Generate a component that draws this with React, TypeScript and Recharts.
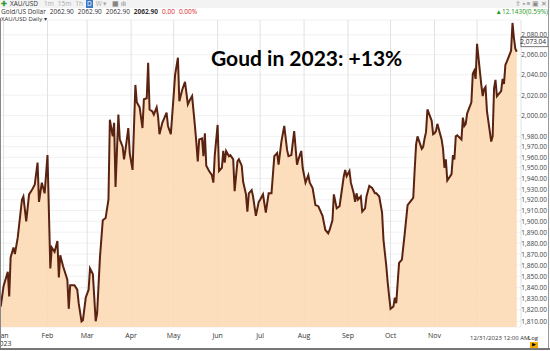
import React from 'react';
import { AreaChart, Area, XAxis, YAxis, CartesianGrid, ReferenceLine } from 'recharts';

// day of 2023 (0 = Jan 1) and daily close, XAU/USD
const DAYS = [
  -2, 0, 3, 4, 5, 7, 8, 10, 13, 14, 16, 18, 20, 22, 24, 25, 27, 29, 31, 33,
  34, 36, 38, 39, 40, 42, 45, 46, 47, 50, 52, 53, 55, 56, 58, 60, 61, 63, 65, 66,
  68, 70, 72, 74, 75, 77, 78, 79, 81, 82, 84, 85, 86, 88, 89, 91, 93, 94, 96, 98,
  99, 101, 102, 103, 105, 106, 108, 109, 110, 112, 115, 116, 118, 120, 121, 123, 124, 126, 128, 130,
  131, 133, 135, 136, 137, 138, 140, 141, 142, 143, 145, 147, 148, 149, 151, 152, 154, 155, 156, 157,
  159, 160, 162, 163, 165, 166, 168, 169, 171, 172, 173, 175, 176, 178, 180, 181, 183, 185, 187, 189,
  191, 193, 194, 196, 198, 200, 201, 203, 205, 207, 208, 210, 211, 213, 215, 216, 218, 220, 222, 223,
  225, 227, 229, 230, 232, 233, 235, 237, 238, 240, 241, 242, 244, 245, 247, 248, 249, 250, 252, 253,
  255, 256, 258, 260, 262, 263, 265, 267, 268, 270, 271, 272, 273, 275, 276, 277, 278, 279, 281, 282,
  283, 285, 288, 289, 290, 291, 292, 295, 296, 297, 298, 299, 302, 303, 304, 305, 306, 309, 310, 311,
  312, 313, 316, 317, 318, 319, 320, 323, 324, 325, 326, 327, 330, 331, 332, 333, 334, 337, 338, 339,
  340, 341, 344, 345, 346, 347, 348, 351, 352, 353, 354, 355, 358, 359, 360, 361, 362,
];
const PRICES = [
  1823, 1841, 1854, 1832, 1867, 1876, 1870, 1885, 1920, 1923, 1900, 1925, 1929, 1934, 1955, 1918, 1936, 1926, 1962, 1857,
  1876, 1872, 1882, 1849, 1869, 1859, 1847, 1821, 1842, 1842, 1838, 1826, 1810, 1811, 1831, 1838, 1857, 1852, 1810, 1817,
  1867, 1901, 1903, 1920, 1996, 1980, 1993, 1932, 2001, 1977, 1970, 1958, 1967, 1988, 1964, 1948, 2030, 2013, 2008, 1988,
  2016, 2017, 2052, 2006, 2004, 2001, 2008, 1999, 1982, 1993, 2003, 1990, 1982, 2020, 2040, 2057, 2014, 2025, 2033, 2011,
  2014, 2019, 1990, 1974, 1956, 1977, 1978, 1961, 1983, 1952, 1947, 1943, 1936, 1962, 1991, 1947, 1950, 1966, 1955, 1966,
  1961, 1962, 1958, 1928, 1956, 1958, 1952, 1937, 1925, 1909, 1926, 1929, 1923, 1905, 1918, 1920, 1925, 1908, 1926, 1926,
  1961, 1964, 1953, 1975, 1990, 1967, 1961, 1962, 1985, 1953, 1958, 1966, 1950, 1936, 1943, 1936, 1931, 1915, 1914, 1911,
  1905, 1892, 1889, 1892, 1901, 1925, 1912, 1914, 1923, 1942, 1948, 1942, 1947, 1936, 1926, 1918, 1926, 1920, 1923, 1909,
  1912, 1923, 1933, 1931, 1926, 1926, 1923, 1908, 1883, 1859, 1844, 1832, 1821, 1823, 1831, 1826, 1844, 1862, 1865, 1877,
  1889, 1915, 1920, 1922, 1948, 1972, 1980, 1968, 1970, 1978, 1984, 2006, 1995, 1982, 1983, 1985, 1992, 1977, 1968, 1950,
  1958, 1938, 1944, 1962, 1958, 1980, 1981, 1977, 1998, 1990, 1992, 2002, 2013, 2041, 2044, 2036, 2071, 2030, 2019, 2026,
  2028, 2004, 1975, 1980, 2027, 2035, 2019, 2024, 2036, 2031, 2050, 2053, 2064, 2092, 2077, 2066, 2063,
];

const MONTH_TICKS = [0, 31, 59, 90, 120, 151, 181, 212, 243, 273, 304, 334];
const MONTH_LABELS = ['Jan', 'Feb', 'Mar', 'Apr', 'May', 'Jun', 'Jul', 'Aug', 'Sep', 'Oct', 'Nov', ''];
const PRICE_TICKS = [
  1810, 1820, 1830, 1840, 1850, 1860, 1870, 1880, 1890, 1900, 1910, 1920, 1930, 1940, 1950, 1960, 1970, 1980,
  2000, 2020, 2040, 2060, 2080,
];
const LAST_PRICE = 2073.04;
const OHLC = ['2062.90', '2062.90', '2062.90', '2062.90'];

const data = DAYS.map((d, i) => ({ day: d, price: PRICES[i] }));

const fmt = (v: number) =>
  v.toLocaleString('en-US', { minimumFractionDigits: 2, maximumFractionDigits: 2 });

const small = { fontFamily: '"Open Sans", sans-serif', fontSize: 6.5, color: '#333' };

const PriceTick = (props: any) => {
  const { y, payload } = props;
  return (
    <text x={547} y={y} dy={2.5} textAnchor="end" fontSize={6.5} fill="#444" fontFamily='"Open Sans", sans-serif'>
      {fmt(payload.value)}
    </text>
  );
};

const MonthTick = (props: any) => {
  const { x, y, payload, index } = props;
  const label = MONTH_LABELS[MONTH_TICKS.indexOf(payload.value)] ?? '';
  return (
    <g>
      <text x={x} y={y + 3} textAnchor="middle" fontSize={7} fill="#333" fontFamily='"Open Sans", sans-serif'>
        {label}
      </text>
      {index === 0 && (
        <text x={x} y={y + 11} textAnchor="middle" fontSize={7} fill="#333" fontFamily='"Open Sans", sans-serif'>
          2023
        </text>
      )}
    </g>
  );
};

const PriceBox = (props: any) => {
  const { viewBox } = props;
  const y = viewBox.y;
  return (
    <g>
      <rect x={521} y={y - 4.5} width={27} height={9.5} fill="#fff" stroke="#555" strokeWidth={0.8} />
      <text x={546} y={y + 2.5} textAnchor="end" fontSize={6.5} fill="#222" fontFamily='"Open Sans", sans-serif'>
        {fmt(LAST_PRICE)}
      </text>
    </g>
  );
};

export default function App() {
  return (
    <div
      style={{
        position: 'absolute',
        left: 0,
        top: 0,
        width: 550,
        height: 351,
        overflow: 'hidden',
        background: '#fff',
      }}
    >
      <AreaChart
        width={550}
        height={351}
        data={data}
        margin={{ top: 20, right: 2, bottom: 4, left: 0 }}
      >
        <CartesianGrid vertical={false} stroke="#f1f1f1" />
        <CartesianGrid horizontal={false} stroke="#e2e2e2" />
        <XAxis
          dataKey="day"
          type="number"
          domain={[-2.5, 365]}
          ticks={MONTH_TICKS}
          tick={<MonthTick />}
          axisLine={false}
          tickLine={false}
          height={20}
          interval={0}
        />
        <YAxis
          orientation="right"
          scale="log"
          type="number"
          domain={[1805, 2095]}
          allowDataOverflow
          ticks={PRICE_TICKS}
          tick={<PriceTick />}
          axisLine={false}
          tickLine={false}
          width={27}
          interval={0}
        />
        <Area
          type="linear"
          dataKey="price"
          stroke="#5a2210"
          strokeWidth={2}
          fill="#fcd9b4"
          fillOpacity={0.88}
          isAnimationActive={false}
          dot={false}
          activeDot={false}
        />
        <ReferenceLine y={LAST_PRICE} stroke="none" label={<PriceBox />} />
      </AreaChart>

      {/* header rows */}
      <div style={{ position: 'absolute', left: 0, top: 0, width: 550, height: 8, background: '#f3f3f3', ...small, lineHeight: '8px', whiteSpace: 'nowrap' }}>
        <span style={{ color: '#2e9b2e', fontWeight: 700, marginLeft: 1 }}>✚</span>
        <span style={{ marginLeft: 3 }}>XAU/USD</span>
        <span style={{ marginLeft: 6, color: '#aaa' }}>1m</span>
        <span style={{ marginLeft: 4, color: '#aaa' }}>15m</span>
        <span style={{ marginLeft: 4, color: '#aaa' }}>1h</span>
        <span style={{ marginLeft: 3, background: '#3a78c8', color: '#fff', padding: '0 1px' }}>D</span>
        <span style={{ marginLeft: 3, color: '#aaa' }}>W ▾</span>
        <span style={{ marginLeft: 5, color: '#666' }}>▦ ılı</span>
        <span style={{ position: 'absolute', right: 3, color: '#888' }}>⇧ ▪ ≡ ▣ ✕</span>
      </div>
      <div style={{ position: 'absolute', left: 1, top: 8, width: 548, height: 7, ...small, lineHeight: '7px', whiteSpace: 'nowrap' }}>
        <span>Gold/US Dollar</span>
        {OHLC.map((v, i) => (
          <span key={i} style={{ marginLeft: 4, fontWeight: i === 3 ? 700 : 400 }}>{v}</span>
        ))}
        <span style={{ marginLeft: 4, color: '#e02020' }}>0.00</span>
        <span style={{ marginLeft: 4, color: '#e02020' }}>0.00%</span>
        <span style={{ position: 'absolute', right: 1, color: '#1d9a1d' }}>▲12.1430(0.59%)</span>
      </div>
      <div style={{ position: 'absolute', left: 1, top: 16, ...small, fontSize: 6, lineHeight: '7px' }}>
        XAU/USD Daily ▾
      </div>

      {/* title */}
      <div
        style={{
          position: 'absolute',
          left: 211,
          top: 45,
          fontFamily: 'Lato, "Open Sans", sans-serif',
          fontWeight: 700,
          fontSize: 21,
          color: '#000',
          whiteSpace: 'nowrap',
        }}
      >
        Goud in 2023: +13%
      </div>

      {/* bottom right */}
      <div style={{ position: 'absolute', left: 470, width: 53, top: 334, ...small, fontSize: 6, textAlign: 'right', whiteSpace: 'nowrap' }}>
        12/31/2023 12:00 AM
      </div>
      <div style={{ position: 'absolute', left: 528, top: 334, ...small, fontSize: 6 }}>Log</div>
      <div style={{ position: 'absolute', left: 530, top: 342, width: 8, height: 6, background: '#f2a900', fontSize: 5, lineHeight: '6px', textAlign: 'center' }}>▶</div>

      {/* frame */}
      <div style={{ position: 'absolute', left: 0, top: 18, width: 1, height: 331, background: '#888' }} />
      <div style={{ position: 'absolute', left: 548, top: 0, width: 1, height: 349, background: '#999' }} />
      <div style={{ position: 'absolute', left: 0, top: 348, width: 550, height: 2, background: '#777' }} />
    </div>
  );
}
